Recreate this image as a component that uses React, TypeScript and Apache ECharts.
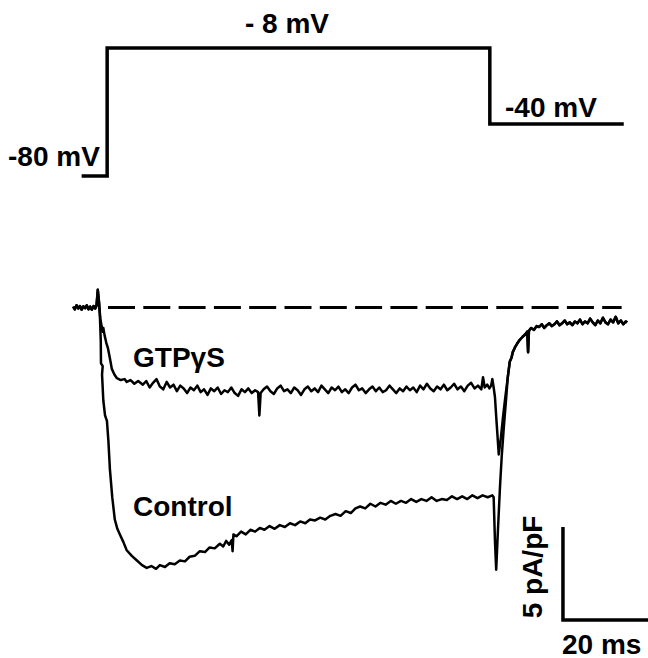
import { useEffect, useRef } from "react";
import * as echarts from "echarts";

// ---- Voltage protocol (ms, mV) ----
const protocolTime = [-6, 0, 0, 90, 90, 121.5];
const protocolVoltage = [-80, -80, -8, -8, -40, -40];

// ---- Current traces (ms, pA/pF) ----
const baselineTrace: [number, number][] = [
  [-8.0, 0.05], [-7.6, -0.1], [-7.2, 0.12], [-6.8, -0.05], [-6.4, 0.08], [-6.0, -0.12],
  [-5.6, 0.06], [-5.2, -0.04], [-4.8, 0.12], [-4.4, -0.1], [-4.0, 0.05], [-3.6, -0.12],
  [-3.2, 0.08], [-2.8, -0.05], [-2.5, 0.1], [-2.2, 0.95],
];

const gtpTrace: [number, number][] = [
  [-1.9, 0.2], [-1.6, -0.6], [-1.3, -1.0], [-1.1, -1.3], [-0.9, -1.1], [-0.6, -1.5],
  [-0.2, -1.9], [0.2, -2.2], [0.7, -2.8], [1.1, -3.3], [1.7, -3.6], [2.3, -3.8],
  [3.2, -3.9], [4.1, -3.85], [4.6, -4.0], [5.5, -3.9], [6.4, -4.1], [7.3, -3.95],
  [8.4, -4.15], [9.2, -3.95], [10.0, -4.3], [10.8, -4.05], [11.6, -3.85], [12.4, -4.25],
  [13.2, -4.4], [14.0, -4.0], [14.8, -4.3], [15.6, -4.15], [16.4, -4.5], [17.2, -4.2],
  [18.0, -4.35], [18.8, -4.6], [19.6, -4.3], [20.4, -4.45], [21.2, -4.2], [22.0, -4.55],
  [22.8, -4.4], [23.6, -4.7], [24.4, -4.35], [25.2, -4.5], [26.0, -4.3], [26.8, -4.65],
  [27.6, -4.45], [28.4, -4.55], [29.2, -4.3], [30.0, -4.6], [30.8, -4.75], [31.6, -4.4],
  [32.4, -4.55], [33.2, -4.35], [34.0, -4.6], [34.8, -4.45], [35.5, -4.55], [35.8, -5.8],
  [36.1, -4.6], [36.8, -4.4], [37.6, -4.25], [38.4, -4.5], [39.2, -4.65], [40.0, -4.35],
  [40.8, -4.2], [41.6, -4.5], [42.4, -4.4], [43.2, -4.6], [44.0, -4.3], [44.8, -4.45],
  [45.6, -4.7], [46.4, -4.4], [47.2, -4.25], [48.0, -4.5], [48.8, -4.35], [49.6, -4.55],
  [50.4, -4.2], [51.2, -4.4], [52.0, -4.6], [52.8, -4.3], [53.6, -4.45], [54.4, -4.25],
  [55.2, -4.55], [56.0, -4.4], [56.8, -4.6], [57.6, -4.3], [58.4, -4.15], [59.2, -4.45],
  [60.0, -4.35], [60.8, -4.6], [61.6, -4.4], [62.4, -4.25], [63.2, -4.5], [64.0, -4.3],
  [64.8, -4.55], [65.6, -4.45], [66.4, -4.2], [67.2, -4.4], [68.0, -4.6], [68.8, -4.35],
  [69.6, -4.5], [70.4, -4.25], [71.2, -4.45], [72.0, -4.3], [72.8, -4.55], [73.6, -4.2],
  [74.4, -4.4], [75.2, -4.1], [76.0, -4.35], [76.8, -4.5], [77.6, -4.25], [78.4, -4.4],
  [79.2, -4.15], [80.0, -4.45], [80.8, -4.3], [81.6, -4.1], [82.4, -4.4], [83.2, -4.25],
  [84.0, -4.5], [84.8, -4.2], [85.6, -4.05], [86.4, -4.35], [87.2, -4.2], [88.0, -4.4],
  [88.4, -3.75], [88.8, -4.3], [89.4, -4.15], [89.9, -4.35], [90.3, -4.2], [90.6, -3.85],
  [90.9, -4.3], [91.2, -4.8], [91.6, -6.2], [92.1, -7.9], [92.6, -7.0], [93.1, -5.9],
  [93.6, -4.9], [94.2, -3.8],
];

const controlTrace: [number, number][] = [
  [-1.9, 0.3], [-1.7, -0.5], [-1.5, -1.8], [-1.45, -3.0], [-1.05, -3.15], [-1.2, -3.6],
  [-0.9, -5.0], [-0.5, -5.8], [-0.05, -6.1], [0.3, -7.2], [0.65, -8.7], [1.2, -10.2],
  [1.8, -11.4], [2.4, -11.9], [3.0, -12.2], [3.8, -12.6], [4.6, -13.05], [5.8, -13.35],
  [7.0, -13.6], [8.2, -13.85], [9.3, -14.0], [10.4, -13.9], [11.5, -14.05], [12.4, -13.85],
  [13.6, -13.95], [14.7, -13.75], [15.9, -13.8], [17.1, -13.6], [18.3, -13.65], [19.4, -13.4],
  [20.6, -13.35], [21.8, -13.1], [23.0, -13.15], [24.1, -12.9], [25.3, -12.95], [26.5, -12.7],
  [27.3, -12.85], [28.0, -12.55], [28.7, -12.75], [29.3, -12.5], [29.5, -13.1], [29.7, -12.2],
  [30.4, -12.3], [31.5, -12.05], [32.6, -12.2], [33.7, -11.95], [34.8, -12.05], [35.9, -11.85],
  [37.0, -11.95], [38.2, -11.75], [39.4, -11.9], [40.6, -11.7], [41.8, -11.8], [43.0, -11.6],
  [44.2, -11.7], [45.4, -11.5], [46.6, -11.6], [47.7, -11.4], [48.9, -11.45], [50.1, -11.3],
  [51.3, -11.4], [52.5, -11.2], [53.7, -11.1], [54.9, -11.2], [56.1, -10.95], [57.3, -11.05],
  [58.4, -10.8], [59.5, -10.7], [60.7, -10.8], [61.9, -10.55], [63.1, -10.7], [64.3, -10.5],
  [65.5, -10.6], [66.7, -10.4], [67.9, -10.55], [69.1, -10.4], [70.3, -10.5], [71.5, -10.3],
  [72.7, -10.45], [73.9, -10.3], [75.1, -10.4], [76.3, -10.2], [77.5, -10.4], [78.7, -10.3],
  [79.9, -10.35], [81.1, -10.15], [82.3, -10.3], [83.5, -10.15], [84.7, -10.3], [85.9, -10.1],
  [87.1, -10.25], [88.3, -10.1], [89.5, -10.2], [90.6, -10.1], [90.9, -10.2], [91.2, -12.5],
  [91.5, -14.1], [91.9, -12.0], [92.4, -9.6], [92.8, -8.0], [93.3, -6.4], [93.8, -5.0],
  [94.2, -3.8],
];

const tailTrace: [number, number][] = [
  [94.2, -3.8], [94.7, -2.9], [95.1, -2.7], [95.4, -2.4], [95.9, -2.15], [96.4, -1.95],
  [97.0, -1.75], [97.6, -1.6], [98.3, -1.45], [98.8, -1.3], [99.0, -2.4], [99.2, -1.25],
  [99.7, -1.1], [100.4, -1.2], [101.0, -1.0], [101.6, -1.05], [102.2, -0.9], [102.8, -1.1],
  [103.4, -0.95], [104.0, -0.85], [104.6, -1.0], [105.2, -0.9], [105.8, -0.75], [106.4, -0.95],
  [107.0, -0.85], [107.6, -0.7], [108.2, -0.9], [108.8, -0.8], [109.4, -0.95], [110.0, -0.75],
  [110.6, -0.85], [111.2, -0.65], [111.8, -0.9], [112.4, -0.75], [113.0, -0.85], [113.6, -0.6],
  [114.2, -0.8], [114.8, -0.95], [115.4, -0.7], [116.0, -0.85], [116.6, -0.55], [117.2, -0.8],
  [117.8, -0.9], [118.4, -0.65], [119.0, -0.8], [119.6, -0.5], [120.2, -0.85], [120.8, -0.7],
  [121.4, -0.9], [122.0, -0.75], [122.3, -0.8],
];

const zeroLineTime = [0.2, 121];
const scaleBarOrigin: [number, number] = [107.2, -16.8];
const scaleBarTimeMs = 20;
const scaleBarCurrent = 5;

const labelTexts = {
  step: "- 8 mV",
  tail: "-40 mV",
  hold: "-80 mV",
  gtp: "GTP\u03b3S",
  control: "Control",
  timeBar: "20 ms",
  currentBar: "5 pA/pF",
};

const LOG_OFFSET = 22; // protocol drawn on compressed (schematic) scale

export default function App() {
  const ref = useRef<HTMLDivElement>(null);
  useEffect(() => {
    if (!ref.current) return;
    const chart = echarts.init(ref.current, undefined, { renderer: "svg" });
    const font = '"Liberation Sans", Arial, Helvetica, sans-serif';
    const txt = (text: string, x: number, y: number, extra: any = {}) => ({
      type: "text",
      x,
      y,
      ...extra,
      style: {
        text,
        fill: "#000",
        font: `bold 28px ${font}`,
        textAlign: extra.align || "left",
        textVerticalAlign: "middle",
      },
    });
    const black = "#000";
    const line = (width: number, extra: any = {}) => ({
      color: black,
      width,
      cap: "butt",
      join: "miter",
      ...extra,
    });
    const fullTrace = (t: [number, number][]) => [...baselineTrace, ...t, ...tailTrace.slice(1)];
    chart.setOption({
      animation: false,
      backgroundColor: "#fff",
      grid: [
        { left: 0, right: 0, top: 48, height: 128 },
        { left: 0, right: 0, top: 270.3, height: 353.4 },
      ],
      xAxis: [
        { type: "value", gridIndex: 0, min: -25.2, max: 127.2, show: false },
        { type: "value", gridIndex: 1, min: -25.2, max: 127.2, show: false },
      ],
      yAxis: [
        { type: "log", gridIndex: 0, min: 30, max: 102, inverse: true, show: false },
        { type: "value", gridIndex: 1, min: -17, max: 2, show: false },
      ],
      series: [
        {
          type: "line",
          xAxisIndex: 0,
          yAxisIndex: 0,
          data: protocolTime.map((t, i) => [t, LOG_OFFSET - protocolVoltage[i]]),
          symbol: "none",
          clip: false,
          lineStyle: line(3.5),
        },
        {
          type: "line",
          xAxisIndex: 1,
          yAxisIndex: 1,
          data: zeroLineTime.map((t) => [t, 0]),
          symbol: "none",
          clip: false,
          lineStyle: line(3, { type: [27, 8.3] }),
        },
        {
          type: "line",
          xAxisIndex: 1,
          yAxisIndex: 1,
          data: fullTrace(gtpTrace),
          symbol: "none",
          clip: false,
          lineStyle: line(2.5, { join: "round" }),
        },
        {
          type: "line",
          xAxisIndex: 1,
          yAxisIndex: 1,
          data: fullTrace(controlTrace),
          symbol: "none",
          clip: false,
          lineStyle: line(2.5, { join: "round" }),
        },
        {
          type: "line",
          xAxisIndex: 1,
          yAxisIndex: 1,
          data: [
            [scaleBarOrigin[0], scaleBarOrigin[1] + scaleBarCurrent],
            scaleBarOrigin,
            [scaleBarOrigin[0] + scaleBarTimeMs, scaleBarOrigin[1]],
          ],
          symbol: "none",
          clip: false,
          lineStyle: line(3.5),
        },
      ],
      graphic: [
        txt(labelTexts.step, 245, 23),
        txt(labelTexts.tail, 505, 107),
        txt(labelTexts.hold, 8, 156),
        txt(labelTexts.gtp, 133, 357),
        txt(labelTexts.control, 133, 506),
        txt(labelTexts.timeBar, 562, 644),
        txt(labelTexts.currentBar, 532, 567, { rotation: Math.PI / 2, align: "center" }),
      ],
    });
    return () => chart.dispose();
  }, []);
  return (
    <div
      ref={ref}
      style={{ position: "absolute", left: 0, top: 0, width: 648, height: 658 }}
    />
  );
}
